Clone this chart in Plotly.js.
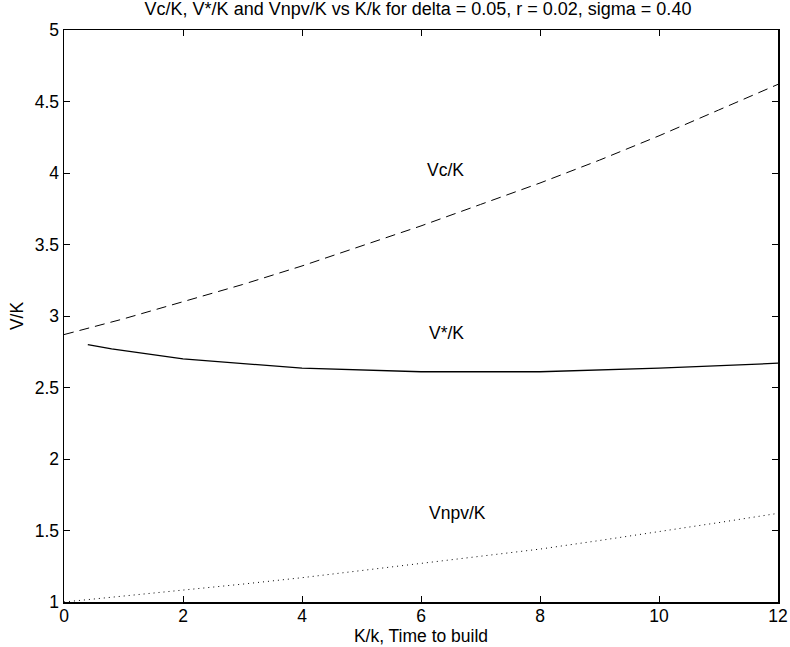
<!DOCTYPE html>
<html>
<head>
<meta charset="utf-8">
<script src="https://cdn.plot.ly/plotly-3.0.1.min.js"></script>
<style>html,body{margin:0;padding:0;background:#fff}#chart{width:790px;height:647px}</style>
</head>
<body>
<div id="chart"></div>
<script>
// Vc/K (dashed)
var vcX = [0, 1, 2, 3, 4, 5, 6, 7, 8, 9, 10, 11, 12];
var vcY = [2.87, 2.98, 3.10, 3.22, 3.35, 3.49, 3.63, 3.78, 3.93, 4.09, 4.26, 4.44, 4.62];
// V*/K (solid)
var vsX = [0.4, 0.8, 2, 4, 6, 8, 10, 12];
var vsY = [2.80, 2.77, 2.70, 2.635, 2.61, 2.61, 2.635, 2.67];
// Vnpv/K (dotted)
var vnX = [0, 1, 2, 3, 4, 5, 6, 7, 8, 9, 10, 11, 12];
var vnY = [1.00, 1.04, 1.08, 1.125, 1.17, 1.22, 1.27, 1.32, 1.37, 1.43, 1.49, 1.555, 1.62];
// labels
var labelText = ["Vc/K", "V*/K", "Vnpv/K"];
var labelX = [6.07, 6.1, 6.1];
var labelY = [4.02, 2.88, 1.62];
var xTicks = [0, 2, 4, 6, 8, 10, 12];
var yTicks = [1, 1.5, 2, 2.5, 3, 3.5, 4, 4.5, 5];
var yTickText = ["1", "1.5", "2", "2.5", "3", "3.5", "4", "4.5", "5"];

var fontFam = "Liberation Sans, Arial, sans-serif";
var fs = 17.5;
var traces = [
  {x: vcX, y: vcY, mode: "lines", line: {color: "#000", width: 1, dash: "10px,6px"}, name: "Vc/K"},
  {x: vsX, y: vsY, mode: "lines", line: {color: "#000", width: 1.3}, name: "V*/K"},
  {x: vnX, y: vnY, mode: "lines", line: {color: "#000", width: 1, dash: "1px,4px"}, name: "Vnpv/K"}
];
var annotations = labelText.map(function(t, i){
  return {x: labelX[i], y: labelY[i], xref: "x", yref: "y", text: t, showarrow: false,
          xanchor: "left", yanchor: "middle", font: {family: fontFam, size: fs, color: "#000"}};
});
var axisCommon = {
  showgrid: false, zeroline: false, showline: true, mirror: "ticks", linecolor: "#000", linewidth: 1.5,
  ticks: "inside", ticklen: 6, tickcolor: "#000", tickwidth: 1,
  tickfont: {family: fontFam, size: fs, color: "#000"}
};
var layout = {
  width: 790, height: 647,
  margin: {l: 64, r: 12, t: 30, b: 45},
  paper_bgcolor: "#fff", plot_bgcolor: "#fff",
  showlegend: false,
  title: {text: "Vc/K, V*/K and Vnpv/K vs K/k for delta = 0.05, r = 0.02, sigma = 0.40",
          font: {family: fontFam, size: 18, color: "#000"}, x: 418/790, xanchor: "center", y: 0.987, yanchor: "middle"},
  xaxis: Object.assign({}, axisCommon, {range: [0, 12], tickvals: xTicks, ticktext: xTicks.map(String),
          ticklabelstandoff: -3,
          title: {text: "K/k, Time to build", font: {family: fontFam, size: fs, color: "#000"}, standoff: 0}}),
  yaxis: Object.assign({}, axisCommon, {range: [1, 5], tickvals: yTicks, ticktext: yTickText,
          title: {text: "V/K", font: {family: fontFam, size: fs, color: "#000"}, standoff: 6}}),
  annotations: annotations
};
Plotly.newPlot("chart", traces, layout, {displayModeBar: false, staticPlot: true});
</script>
</body>
</html>
